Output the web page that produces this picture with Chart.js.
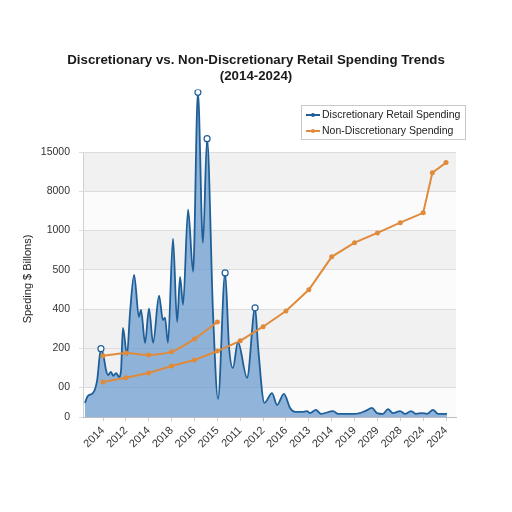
<!DOCTYPE html>
<html>
<head>
<meta charset="utf-8">
<script src="https://cdn.jsdelivr.net/npm/chart.js@4.4.1/dist/chart.umd.min.js"></script>
<style>
  html, body { margin: 0; padding: 0; background: #ffffff; }
  #wrap { width: 512px; height: 512px; position: relative; }
</style>
</head>
<body>
<div id="wrap"><canvas id="c" width="512" height="512"></canvas></div>
<script>
// ---- data ----
const titleLines = ['Discretionary vs. Non-Discretionary Retail Spending Trends', '(2014-2024)'];
const yAxisTitle = 'Speding $ Billons)';
const xLabels = ['2014','2012','2014','2018','2016','2015','2011','2012','2016','2013','2014','2019','2029','2028','2024','2024'];
const yTickLabels = ['0','00','200','400','500','1000','8000','15000'];
const yTickLevels = [0, 0.75, 1.75, 2.75, 3.75, 4.75, 5.75, 6.75];
const seriesNames = ['Discretionary Retail Spending', 'Non-Discretionary Spending'];

// Discretionary (position along label index, value in axis levels)
const blueT = [-0.79,-0.66,-0.44,-0.26,-0.09,0.04,0.13,0.22,0.35,0.44,0.57,0.70,0.79,0.87,1.05,1.18,1.36,1.57,1.66,1.84,
               2.01,2.19,2.45,2.62,2.71,2.84,3.06,3.24,3.37,3.50,3.72,3.94,4.15,4.37,4.55,4.81,5.03,5.34,5.51,5.68,
               5.90,6.30,6.65,6.78,7.06,7.39,7.61,7.91,8.18,8.40,8.70,8.92,9.05,9.31,9.53,10.06,10.28,11.02,11.46,11.76,
               11.98,12.24,12.46,12.68,12.99,13.21,13.47,13.69,13.95,14.17,14.43,14.65,15.04];
const blueV = [0.36,0.54,0.61,0.92,1.74,1.50,1.20,1.07,1.15,1.05,1.12,1.02,1.20,2.27,1.58,2.65,3.62,2.55,2.73,1.89,
               2.76,1.89,3.09,2.47,2.53,1.89,4.54,2.42,3.57,2.86,5.28,3.70,8.27,4.44,7.09,2.65,0.46,3.67,1.79,1.25,
               1.91,1.00,2.78,1.79,0.36,0.61,0.31,0.59,0.23,0.13,0.13,0.15,0.10,0.18,0.08,0.15,0.08,0.08,0.15,0.23,
               0.10,0.08,0.20,0.10,0.15,0.08,0.15,0.08,0.10,0.08,0.18,0.08,0.08];
const blueMarkers = [4, 32, 34, 37, 42];

// Non-discretionary
const orangeT = [0,1,2,3,4,5,6,7,8,9,10,11,12,13,14,14.4,15];
const orangeV = [0.89,1.00,1.12,1.30,1.45,1.68,1.94,2.30,2.70,3.24,4.08,4.44,4.69,4.95,5.20,6.22,6.48];
// extra short orange segment (early years)
const orange2T = [0,1,2,3,4,5];
const orange2V = [1.56,1.63,1.58,1.66,1.99,2.42];

// ---- style ----
const BLUE = '#1f5f98';
const BLUE_FILL = 'rgba(110,156,207,0.75)';
const ORANGE = '#e08a3c';
const bandColors = ['#fbfbfb','#f1f1f1','#f1f1f1','#fbfbfb','#f1f1f1','#fbfbfb','#f1f1f1'];
const FONT = "'Liberation Sans', Arial, sans-serif";
Chart.defaults.font.family = FONT;

const pts = (t, v) => t.map((x, i) => ({ x: x, y: v[i] }));

const decorPlugin = {
  id: 'decor',
  beforeDraw(chart) {
    const { ctx, chartArea: a, scales: { y } } = chart;
    ctx.save();
    for (let i = 0; i < yTickLevels.length - 1; i++) {
      const y0 = y.getPixelForValue(yTickLevels[i]);
      const y1 = y.getPixelForValue(yTickLevels[i + 1]);
      ctx.fillStyle = bandColors[i];
      ctx.fillRect(a.left, y1, a.right - a.left, y0 - y1);
    }
    // left axis line, only over the banded range
    const yTop = y.getPixelForValue(yTickLevels[yTickLevels.length - 1]);
    ctx.strokeStyle = '#d0d0d0';
    ctx.lineWidth = 1;
    ctx.beginPath();
    ctx.moveTo(a.left + 0.5, yTop);
    ctx.lineTo(a.left + 0.5, a.bottom);
    ctx.stroke();
    ctx.restore();
  },
  afterDraw(chart) {
    const { ctx } = chart;
    ctx.save();
    // y axis title
    ctx.translate(28, 279);
    ctx.rotate(-Math.PI / 2);
    ctx.fillStyle = '#222';
    ctx.font = "11px " + FONT;
    ctx.textAlign = 'center';
    ctx.textBaseline = 'middle';
    ctx.fillText(yAxisTitle, 0, 0);
    ctx.restore();

    // legend
    ctx.save();
    const lx = 301, ly = 105, lw = 164, lh = 34;
    ctx.fillStyle = '#ffffff';
    ctx.fillRect(lx, ly, lw, lh);
    ctx.strokeStyle = '#c8c8c8';
    ctx.lineWidth = 1;
    ctx.strokeRect(lx + 0.5, ly + 0.5, lw, lh);
    const cols = [BLUE, ORANGE];
    ctx.font = "10.5px " + FONT;
    ctx.textBaseline = 'middle';
    ctx.textAlign = 'left';
    seriesNames.forEach((name, i) => {
      const yy = ly + 10 + i * 16;
      ctx.strokeStyle = cols[i];
      ctx.lineWidth = 2;
      ctx.beginPath(); ctx.moveTo(306, yy); ctx.lineTo(320, yy); ctx.stroke();
      ctx.fillStyle = cols[i];
      ctx.beginPath(); ctx.arc(313, yy, 2, 0, Math.PI * 2); ctx.fill();
      ctx.fillStyle = '#222';
      ctx.fillText(name, 322, yy);
    });
    ctx.restore();
  }
};

new Chart(document.getElementById('c'), {
  type: 'line',
  data: {
    datasets: [
      {
        label: seriesNames[1],
        data: pts(orangeT, orangeV),
        borderColor: ORANGE, backgroundColor: ORANGE,
        borderWidth: 2, pointRadius: 2.5, pointHoverRadius: 2.5,
        pointBackgroundColor: ORANGE, pointBorderWidth: 0,
        fill: false, tension: 0
      },
      {
        label: seriesNames[1] + ' (segment)',
        data: pts(orange2T, orange2V),
        borderColor: ORANGE, backgroundColor: ORANGE,
        borderWidth: 2, pointRadius: 2.5, pointHoverRadius: 2.5,
        pointBackgroundColor: ORANGE, pointBorderWidth: 0,
        fill: false, tension: 0.2
      },
      {
        label: seriesNames[0],
        data: pts(blueT, blueV),
        borderColor: BLUE, backgroundColor: BLUE_FILL,
        borderWidth: 1.8, fill: 'origin',
        cubicInterpolationMode: 'monotone',
        pointRadius: ctx => blueMarkers.includes(ctx.dataIndex) ? 3 : 0,
        pointBackgroundColor: '#ffffff', pointBorderColor: BLUE, pointBorderWidth: 1.2
      }
    ]
  },
  options: {
    responsive: false,
    animation: false,
    devicePixelRatio: 1,
    layout: { padding: { left: 0, right: 0, top: 0, bottom: 0 } },
    plugins: {
      legend: { display: false },
      tooltip: { enabled: false },
      title: {
        display: true,
        text: titleLines,
        color: '#1a1a1a',
        font: { size: 13.3, weight: 'bold', family: FONT, lineHeight: 1.15 },
        padding: { top: 53, bottom: 6 }
      }
    },
    scales: {
      x: {
        type: 'linear',
        min: -0.875, max: 15.435,
        afterBuildTicks: s => { s.ticks = xLabels.map((_, i) => ({ value: i })); },
        afterFit: s => { s.height = 95; },
        ticks: {
          autoSkip: false, maxRotation: 45, minRotation: 45,
          color: '#333', font: { size: 11 }, padding: 3,
          callback: (v, i) => xLabels[i]
        },
        grid: { display: true, drawOnChartArea: false, tickLength: 4, color: '#cfcfcf' },
        border: { display: true, color: '#bdbdbd' }
      },
      y: {
        type: 'linear',
        min: 0, max: 8.34,
        afterBuildTicks: s => { s.ticks = yTickLevels.map(v => ({ value: v })); },
        afterFit: s => { s.width = 83; },
        ticks: {
          color: '#333', font: { size: 10.5 }, padding: 9,
          callback: (v, i) => yTickLabels[i]
        },
        grid: { color: '#dcdcdc', tickLength: 4 },
        border: { display: false }
      },
      yr: {
        type: 'linear', position: 'right', display: true,
        afterFit: s => { s.width = 56; },
        ticks: { display: false },
        grid: { display: false },
        border: { display: false }
      }
    }
  },
  plugins: [decorPlugin]
});
</script>
</body>
</html>
